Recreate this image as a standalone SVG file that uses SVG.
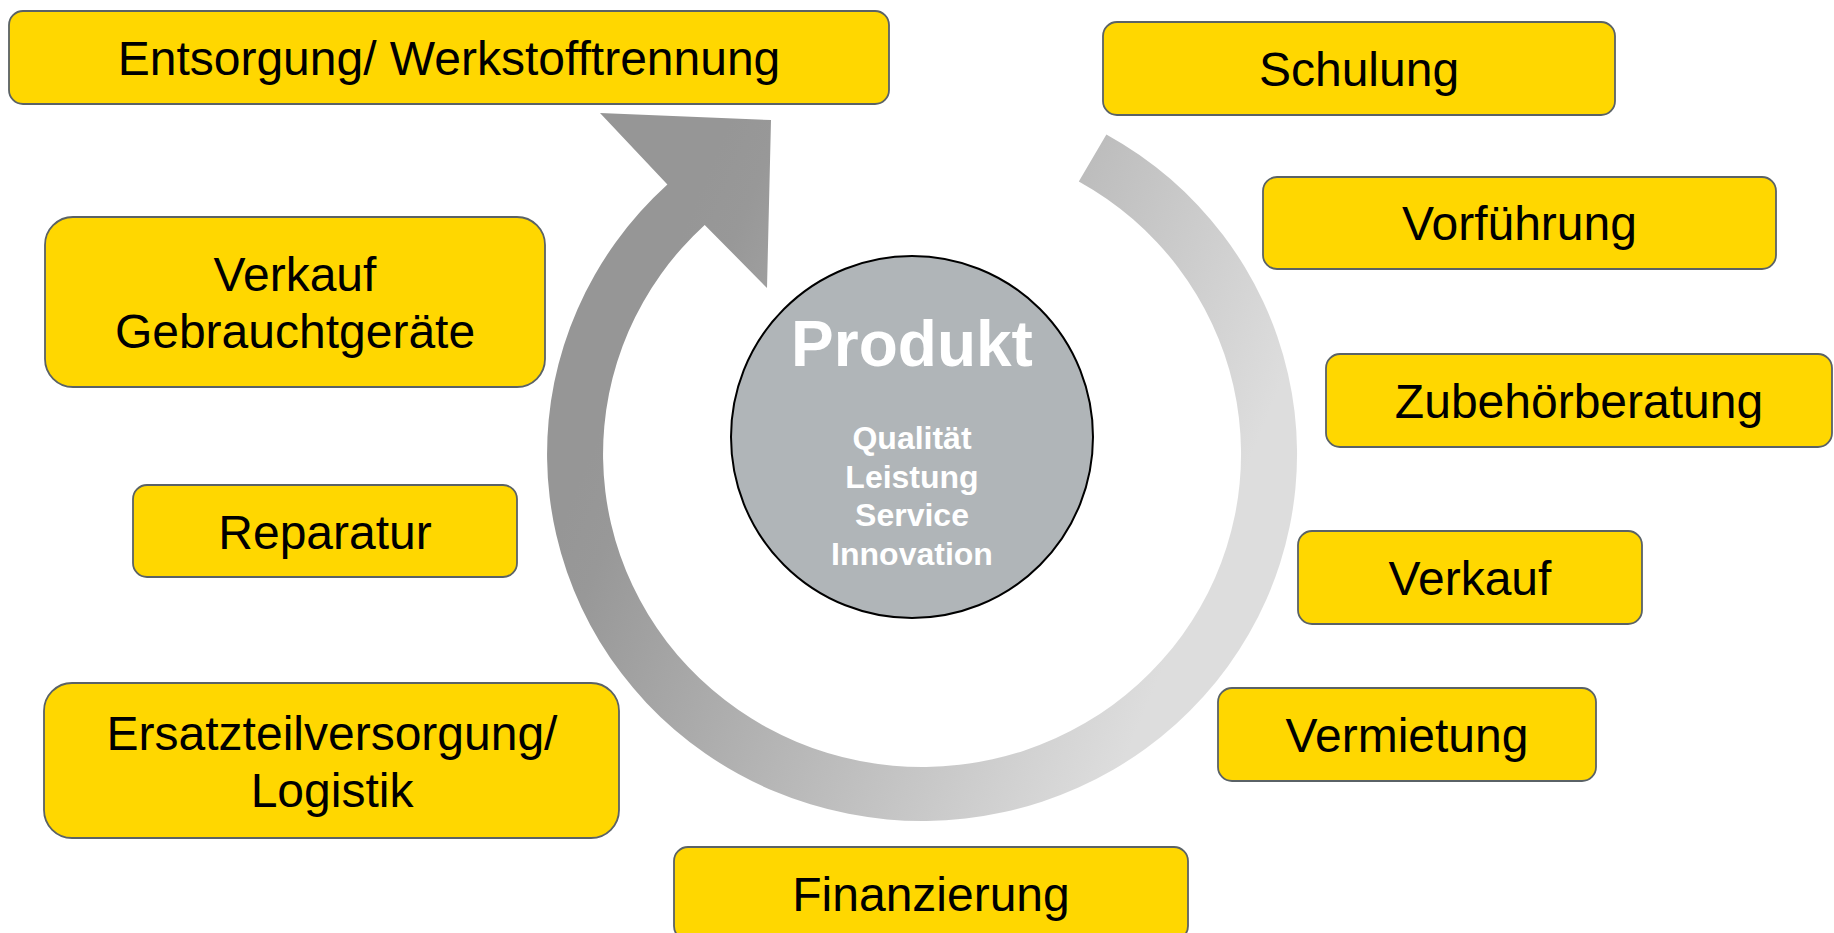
<svg xmlns="http://www.w3.org/2000/svg" width="1834" height="933" viewBox="0 0 1834 933">
<defs>
<style>
.box{fill:#FFD700;stroke:#5a6266;stroke-width:1.8}
.lbl{font-family:"Liberation Sans",Arial,sans-serif;font-size:48px;fill:#000;text-anchor:middle}
.ctr{font-family:"Liberation Sans",Arial,sans-serif;font-weight:bold;fill:#fff;text-anchor:middle}
</style>
<linearGradient id="ringGrad" gradientUnits="userSpaceOnUse" x1="664" y1="277" x2="1228" y2="512">
<stop offset="0" stop-color="#969696"/>
<stop offset="0.08" stop-color="#989898"/>
<stop offset="1" stop-color="#dddddd"/>
</linearGradient>
</defs>
<rect width="1834" height="933" fill="#ffffff"/>
<g id="connectors">
<path d="M 667.4 184.6 A 375 367 0 1 0 1106.4 134.4 L 1078.8 181.4 A 319 313 0 1 1 704.7 224.9 L 767 288 L 771 120 L 600 113 Z" fill="url(#ringGrad)"/>
</g>
<g id="produkt">
<circle cx="912" cy="437" r="181" fill="#B0B5B8" stroke="#000" stroke-width="2"/>
<text class="ctr" x="912" y="366" font-size="64">Produkt</text>
<text class="ctr" x="912" y="449" font-size="32">Qualität</text>
<text class="ctr" x="912" y="488" font-size="32">Leistung</text>
<text class="ctr" x="912" y="526" font-size="32">Service</text>
<text class="ctr" x="912" y="565" font-size="32">Innovation</text>
</g>
<g id="entsorgung">
<rect class="box" x="9" y="11" width="880" height="93" rx="14"/>
<text class="lbl" x="449" y="74.5">Entsorgung/ Werkstofftrennung</text>
</g>
<g id="verkauf-gebraucht">
<rect class="box" x="45" y="217" width="500" height="170" rx="28"/>
<text class="lbl" x="295" y="291">Verkauf</text>
<text class="lbl" x="295" y="348">Gebrauchtgeräte</text>
</g>
<g id="reparatur">
<rect class="box" x="133" y="485" width="384" height="92" rx="14"/>
<text class="lbl" x="325" y="548.5">Reparatur</text>
</g>
<g id="ersatzteil">
<rect class="box" x="44" y="683" width="575" height="155" rx="28"/>
<text class="lbl" x="332" y="750">Ersatzteilversorgung/</text>
<text class="lbl" x="332" y="807">Logistik</text>
</g>
<g id="finanzierung">
<rect class="box" x="674" y="847" width="514" height="93" rx="14"/>
<text class="lbl" x="931" y="911">Finanzierung</text>
</g>
<g id="schulung">
<rect class="box" x="1103" y="22" width="512" height="93" rx="14"/>
<text class="lbl" x="1359" y="85.5">Schulung</text>
</g>
<g id="vorfuehrung">
<rect class="box" x="1263" y="177" width="513" height="92" rx="14"/>
<text class="lbl" x="1519.5" y="240">Vorführung</text>
</g>
<g id="zubehoer">
<rect class="box" x="1326" y="354" width="506" height="93" rx="14"/>
<text class="lbl" x="1579" y="417.5">Zubehörberatung</text>
</g>
<g id="verkauf">
<rect class="box" x="1298" y="531" width="344" height="93" rx="14"/>
<text class="lbl" x="1470" y="594.5">Verkauf</text>
</g>
<g id="vermietung">
<rect class="box" x="1218" y="688" width="378" height="93" rx="14"/>
<text class="lbl" x="1407" y="751.5">Vermietung</text>
</g>
</svg>
